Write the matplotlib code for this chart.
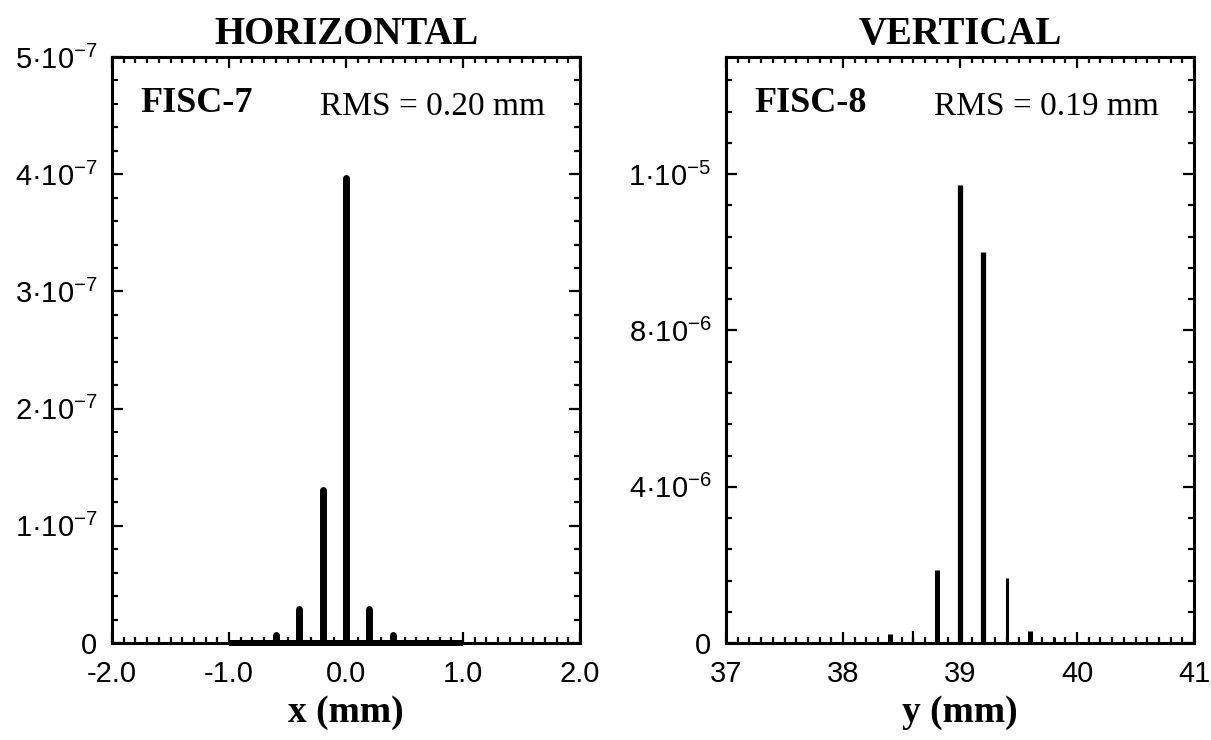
"""Beam profile histograms at FISC-7 (horizontal) and FISC-8 (vertical)."""
import matplotlib
matplotlib.use("Agg")
import matplotlib.pyplot as plt
from matplotlib.ticker import FixedLocator, MultipleLocator

plt.rcParams["font.family"] = ["Liberation Sans", "DejaVu Sans"]
plt.rcParams["mathtext.fontset"] = "custom"
plt.rcParams["mathtext.rm"] = "Liberation Sans"
plt.rcParams["mathtext.it"] = "Liberation Sans:italic"
plt.rcParams["mathtext.bf"] = "Liberation Sans:bold"

SERIF = ["Liberation Serif", "DejaVu Serif"]

# horizontal profile (FISC-7), bins every 0.2 mm
h_pos = [-1.0, -0.8, -0.6, -0.4, -0.2, 0.0, 0.2, 0.4, 0.6, 0.8, 1.0]
h_val = [0, 0, 6.5e-9, 2.9e-8, 1.31e-7, 3.97e-7, 2.9e-8, 6.5e-9, 0, 0, 0]
h_yticks = [0, 1e-7, 2e-7, 3e-7, 4e-7, 5e-7]
h_ylabels = ["0", "1·10$^{-7}$", "2·10$^{-7}$", "3·10$^{-7}$", "4·10$^{-7}$", "5·10$^{-7}$"]
h_xticks = [-2.0, -1.0, 0.0, 1.0, 2.0]
h_xlabels = ["-2.0", "-1.0", "0.0", "1.0", "2.0"]

# vertical profile (FISC-8)
v_pos = [38.4, 38.6, 38.8, 39.0, 39.2, 39.4, 39.6, 39.8]
v_val = [0.23e-6, 0.3e-6, 1.87e-6, 11.72e-6, 10.0e-6, 1.67e-6, 0.31e-6, 0.15e-6]
v_yticks = [0, 4e-6, 8e-6, 1.2e-5]
v_ylabels = ["0", "4·10$^{-6}$", "8·10$^{-6}$", "1·10$^{-5}$"]
v_xticks = [37, 38, 39, 40, 41]
v_xlabels = ["37", "38", "39", "40", "41"]

# line widths of the individual vertical bars (pt)
v_lw = [3.6, 1.6, 3.6, 3.8, 3.8, 2.2, 3.6, 2.2]


def style_axes(ax, xlim, ylim, xticks, xlabels, yticks, ylabels, ymin_step):
    ax.set_xlim(*xlim)
    ax.set_ylim(*ylim)
    ax.xaxis.set_major_locator(FixedLocator(xticks))
    ax.set_xticklabels(xlabels)
    ax.xaxis.set_minor_locator(MultipleLocator(0.1))
    ax.yaxis.set_major_locator(FixedLocator(yticks))
    ax.set_yticklabels(ylabels)
    ax.yaxis.set_minor_locator(MultipleLocator(ymin_step))
    ax.tick_params(which="both", direction="in", top=True, right=True,
                   width=1.6, labelsize=21)
    ax.tick_params(which="major", length=8)
    ax.tick_params(which="minor", length=4.5)
    ax.tick_params(axis="x", pad=12)
    ax.tick_params(axis="y", pad=10.5)
    for sp in ax.spines.values():
        sp.set_linewidth(2.2)


fig = plt.figure(figsize=(12.11, 7.40), dpi=100)
ax1 = fig.add_axes([0.0925, 0.131, 0.3865, 0.792])
ax2 = fig.add_axes([0.5995, 0.131, 0.3865, 0.792])

# left panel
ax1.plot(h_pos, [0] * len(h_pos), color="black", lw=4.3,
         solid_capstyle="butt", clip_on=False, zorder=3)
bars = ax1.vlines(h_pos, 0, h_val, color="black", lw=5)
bars.set_capstyle("round")
style_axes(ax1, (-2.0, 2.0), (0, 5e-7), h_xticks, h_xlabels,
           h_yticks, h_ylabels, 2e-8)
ax1.set_title("HORIZONTAL", family=SERIF, fontweight="bold", fontsize=28, pad=9)
ax1.set_xlabel("x (mm)", family=SERIF, fontweight="bold", fontsize=27, labelpad=5)
ax1.text(0.06, 0.92, "FISC-7", transform=ax1.transAxes, family=SERIF,
         fontweight="bold", fontsize=26, ha="left", va="center")
ax1.text(0.925, 0.915, "RMS = 0.20 mm", transform=ax1.transAxes, family=SERIF,
         fontsize=24, ha="right", va="center")

# right panel
ax2.vlines(v_pos, 0, v_val, color="black", lw=v_lw)
style_axes(ax2, (37, 41), (0, 1.5e-5), v_xticks, v_xlabels,
           v_yticks, v_ylabels, 0.8e-6)
ax2.set_title("VERTICAL", family=SERIF, fontweight="bold", fontsize=28, pad=9)
ax2.set_xlabel("y (mm)", family=SERIF, fontweight="bold", fontsize=27, labelpad=5)
ax2.text(0.06, 0.92, "FISC-8", transform=ax2.transAxes, family=SERIF,
         fontweight="bold", fontsize=26, ha="left", va="center")
ax2.text(0.925, 0.915, "RMS = 0.19 mm", transform=ax2.transAxes, family=SERIF,
         fontsize=24, ha="right", va="center")

fig.savefig("out.png", dpi=100)
plt.close(fig)
